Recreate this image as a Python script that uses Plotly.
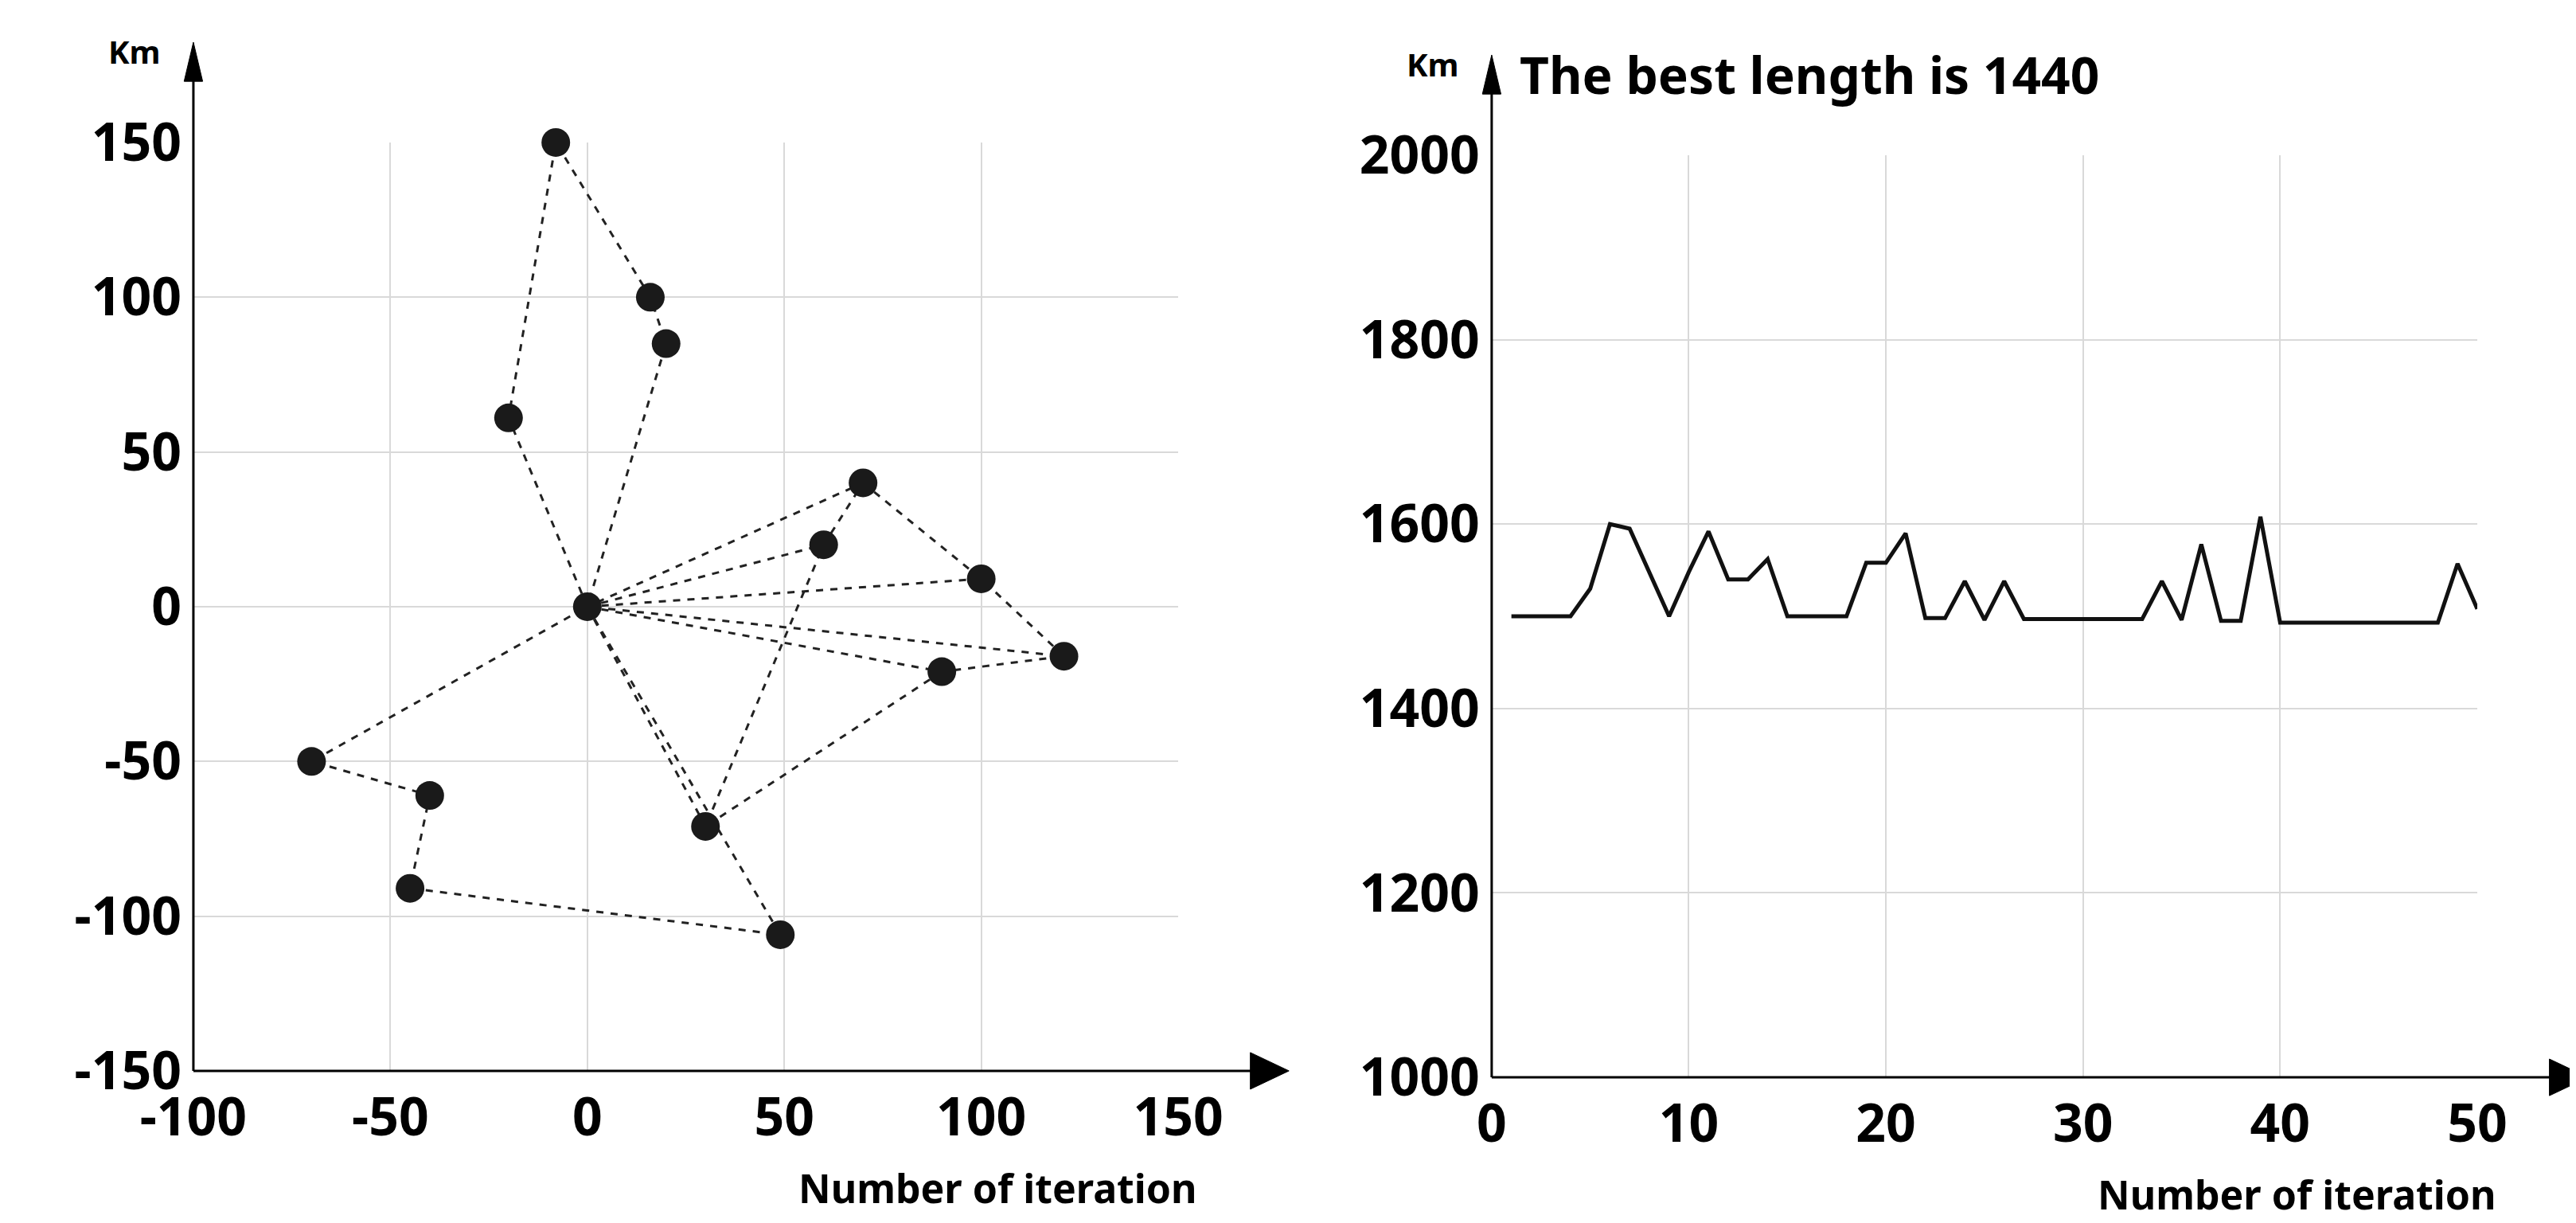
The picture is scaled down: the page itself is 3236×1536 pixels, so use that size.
import plotly.graph_objects as go

# Cities (left panel)
city_x = [0, -8, 16, 20, -20, 70, 60, 100, 121, 90, 30, 49, -45, -40, -70]
city_y = [0, 150, 100, 85, 61, 40, 20, 9, -16, -21, -71, -106, -91, -61, -50]

# Route polylines (None separates segments)
route_x = [0, -20, -8, 16, 20, 0, None,
           0, 60, 70, 0, None,
           70, 100, 121, 0, None,
           0, 100, None,
           0, 90, 121, None,
           90, 30, 60, None,
           0, 30, None,
           0, 49, -45, -40, -70, 0]
route_y = [0, 61, 150, 100, 85, 0, None,
           0, 20, 40, 0, None,
           40, 9, -16, 0, None,
           0, 9, None,
           0, -21, -16, None,
           -21, -71, 20, None,
           0, -71, None,
           0, -106, -91, -61, -50, 0]

# Convergence (right panel)
iters = list(range(1, 51))
lengths = [1500, 1500, 1500, 1500, 1530, 1600, 1595, 1548, 1500, 1548,
           1592, 1540, 1540, 1562, 1500, 1500, 1500, 1500, 1558, 1558,
           1590, 1498, 1498, 1538, 1496, 1538, 1497, 1497, 1497, 1497,
           1497, 1497, 1497, 1538, 1496, 1578, 1495, 1495, 1608, 1493,
           1493, 1493, 1493, 1493, 1493, 1493, 1493, 1493, 1557, 1508]

left_x_ticks = [-100, -50, 0, 50, 100, 150]
left_y_ticks = [-150, -100, -50, 0, 50, 100, 150]
right_x_ticks = [0, 10, 20, 30, 40, 50]
right_y_ticks = [1000, 1200, 1400, 1600, 1800, 2000]

FONT = "Noto Sans"
fig = go.Figure()
fig.add_trace(go.Scatter(x=route_x, y=route_y, mode="lines",
                         line=dict(color="#222", width=3, dash="dash"),
                         xaxis="x", yaxis="y", showlegend=False, cliponaxis=False))
fig.add_trace(go.Scatter(x=city_x, y=city_y, mode="markers",
                         marker=dict(color="#1a1a1a", size=36),
                         xaxis="x", yaxis="y", showlegend=False, cliponaxis=False))
fig.add_trace(go.Scatter(x=iters, y=lengths, mode="lines",
                         line=dict(color="#111", width=5),
                         xaxis="x2", yaxis="y2", showlegend=False))

tickfont = dict(family=FONT, size=66, color="black", weight="bold")
grid = dict(showgrid=True, gridcolor="#d9d9d9", gridwidth=2, zeroline=False,
            showline=False, ticks="", tickfont=tickfont, automargin=False)

def lab(v):
    return [str(t).replace("\u2212", "-") for t in v]

LX = [0.0726, 0.4549]; LY = [0.1296, 0.8887]
RX = [0.5766, 0.9592]; RY = [0.1243, 0.8783]

fig.update_layout(
    width=3236, height=1536, margin=dict(l=0, r=0, t=0, b=0, autoexpand=False),
    paper_bgcolor="white", plot_bgcolor="white",
    xaxis=dict(domain=LX, range=[-100, 150], tickvals=left_x_ticks, ticktext=lab(left_x_ticks),
               anchor="y", ticklabelstandoff=14, **grid),
    yaxis=dict(domain=LY, range=[-150, 150], tickvals=left_y_ticks, ticktext=lab(left_y_ticks),
               anchor="x", ticklabelstandoff=14, **grid),
    xaxis2=dict(domain=RX, range=[0, 50], tickvals=right_x_ticks, anchor="y2",
                ticklabelstandoff=14, **grid),
    yaxis2=dict(domain=RY, range=[1000, 2000], tickvals=right_y_ticks, anchor="x2",
                ticklabelstandoff=14, **grid),
)

shapes = []
annotations = []
for (dx, dy) in [(LX, LY), (RX, RY)]:
    x0, x1 = dx; y0, y1 = dy
    shapes.append(dict(type="line", xref="paper", yref="paper", x0=x0, y0=y0, x1=x1 + 0.030, y1=y0,
                       line=dict(color="black", width=3)))
    shapes.append(dict(type="line", xref="paper", yref="paper", x0=x0, y0=y0, x1=x0, y1=y1 + 0.055,
                       line=dict(color="black", width=3)))
    ax = x1 + 0.028; w = 0.0075; h = 0.015
    shapes.append(dict(type="path", xref="paper", yref="paper",
                       path=f"M {ax} {y0-h} L {ax+w*2} {y0} L {ax} {y0+h} Z",
                       fillcolor="black", line=dict(color="black", width=1)))
    ay = y1 + 0.050; ww = 0.0036; hh = 0.032
    shapes.append(dict(type="path", xref="paper", yref="paper",
                       path=f"M {x0-ww} {ay} L {x0} {ay+hh} L {x0+ww} {ay} Z",
                       fillcolor="black", line=dict(color="black", width=1)))
    annotations.append(dict(xref="paper", yref="paper", x=x0 - 0.012, y=y1 + 0.055, text="Km",
                            showarrow=False, xanchor="right", yanchor="bottom",
                            font=dict(family=FONT, size=40, color="black", weight="bold")))
    annotations.append(dict(xref="paper", yref="paper", x=x1 + 0.008, y=y0 - 0.072,
                            text="Number of iteration", showarrow=False, xanchor="right", yanchor="top",
                            font=dict(family=FONT, size=50, color="black", weight="bold")))
annotations.append(dict(xref="paper", yref="paper", x=0.7, y=0.915, text="The best length is 1440",
                        showarrow=False, xanchor="center", yanchor="bottom",
                        font=dict(family=FONT, size=64, color="black", weight="bold")))
fig.update_layout(shapes=shapes, annotations=annotations)
fig.write_html("out.html")
